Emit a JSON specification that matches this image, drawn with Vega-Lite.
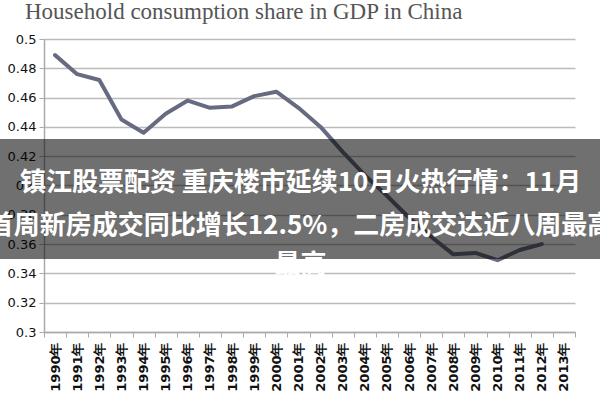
{
  "$schema": "https://vega.github.io/schema/vega-lite/v6.json",
  "width": 531,
  "height": 293,
  "autosize": {"type": "none"},
  "padding": {"left": 44, "top": 39, "right": 25, "bottom": 68},
  "background": "white",
  "title": {
    "text": "Household consumption share in GDP in China",
    "font": "Liberation Serif",
    "fontSize": 23,
    "fontWeight": "normal",
    "color": "#555555",
    "anchor": "start",
    "frame": "group",
    "dx": -19,
    "offset": 9
  },
  "config": {
    "view": {"stroke": null},
    "axis": {
      "labelFont": "DejaVu Sans",
      "labelColor": "#111111",
      "domainColor": "#aaaaaa",
      "tickColor": "#aaaaaa",
      "gridColor": "#bbbbbb",
      "gridWidth": 1.5
    }
  },
  "resolve": {"scale": {"x": "independent"}, "axis": {"x": "independent"}},
  "layer": [
    {
      "data": {
        "values": [
          {"year": "1990年", "share": 0.489},
          {"year": "1991年", "share": 0.476},
          {"year": "1992年", "share": 0.472},
          {"year": "1993年", "share": 0.445},
          {"year": "1994年", "share": 0.436},
          {"year": "1995年", "share": 0.449},
          {"year": "1996年", "share": 0.458},
          {"year": "1997年", "share": 0.453},
          {"year": "1998年", "share": 0.454},
          {"year": "1999年", "share": 0.461},
          {"year": "2000年", "share": 0.464},
          {"year": "2001年", "share": 0.453},
          {"year": "2002年", "share": 0.44},
          {"year": "2003年", "share": 0.423},
          {"year": "2004年", "share": 0.407},
          {"year": "2005年", "share": 0.393},
          {"year": "2006年", "share": 0.378},
          {"year": "2007年", "share": 0.365},
          {"year": "2008年", "share": 0.353},
          {"year": "2009年", "share": 0.354},
          {"year": "2010年", "share": 0.349},
          {"year": "2011年", "share": 0.356},
          {"year": "2012年", "share": 0.36}
        ]
      },
      "mark": {"type": "line", "color": "#676b82", "strokeWidth": 4, "strokeJoin": "round", "strokeCap": "round"},
      "encoding": {
        "x": {
          "field": "year",
          "type": "ordinal",
          "bandPosition": 0.5,
          "scale": {
            "type": "band",
            "paddingInner": 0,
            "paddingOuter": 0,
            "domain": ["1990年","1991年","1992年","1993年","1994年","1995年","1996年","1997年","1998年","1999年","2000年","2001年","2002年","2003年","2004年","2005年","2006年","2007年","2008年","2009年","2010年","2011年","2012年","2013年"]
          },
          "axis": {
            "title": null,
            "labelAngle": 270,
            "labelFontSize": 13,
            "labelFontWeight": "bold",
            "labelPadding": 5,
            "labelOverlap": false,
            "tickBand": "extent",
            "tickSize": 5,
            "grid": false,
            "domainWidth": 1.5
          }
        },
        "y": {
          "field": "share",
          "type": "quantitative",
          "scale": {"domain": [0.3, 0.5], "nice": false, "zero": false},
          "axis": {
            "title": null,
            "values": [0.3, 0.32, 0.34, 0.36, 0.38, 0.4, 0.42, 0.44, 0.46, 0.48, 0.5],
            "tickCount": 11,
            "format": ".2~f",
            "labelFontSize": 13,
            "labelOverlap": false,
            "tickSize": 5,
            "labelPadding": 3,
            "domainWidth": 1.5
          }
        }
      }
    },
    {
      "data": {"values": [{"left": -0.083, "right": 1.048, "top": 0.4317, "bottom": 0.3498}]},
      "mark": {"type": "rect", "color": "#000000", "opacity": 0.56},
      "encoding": {
        "x": {"field": "left", "type": "quantitative", "scale": {"domain": [0, 1], "nice": false, "zero": false}, "axis": null},
        "x2": {"field": "right"},
        "y": {"field": "top", "type": "quantitative"},
        "y2": {"field": "bottom"}
      }
    },
    {
      "data": {
        "values": [
          {"t": "镇江股票配资 重庆楼市延续10月火热行情：11月", "pos": 0.4017},
          {"t": "首周新房成交同比增长12.5%，二房成交达近八周最高", "pos": 0.3724},
          {"t": "最高", "pos": 0.3455}
        ]
      },
      "mark": {"type": "text", "color": "white", "font": "Noto Sans CJK SC", "fontWeight": "bold", "fontSize": 26, "align": "center", "baseline": "middle", "dx": -9},
      "encoding": {
        "y": {"field": "pos", "type": "quantitative"},
        "text": {"field": "t"}
      }
    }
  ]
}
